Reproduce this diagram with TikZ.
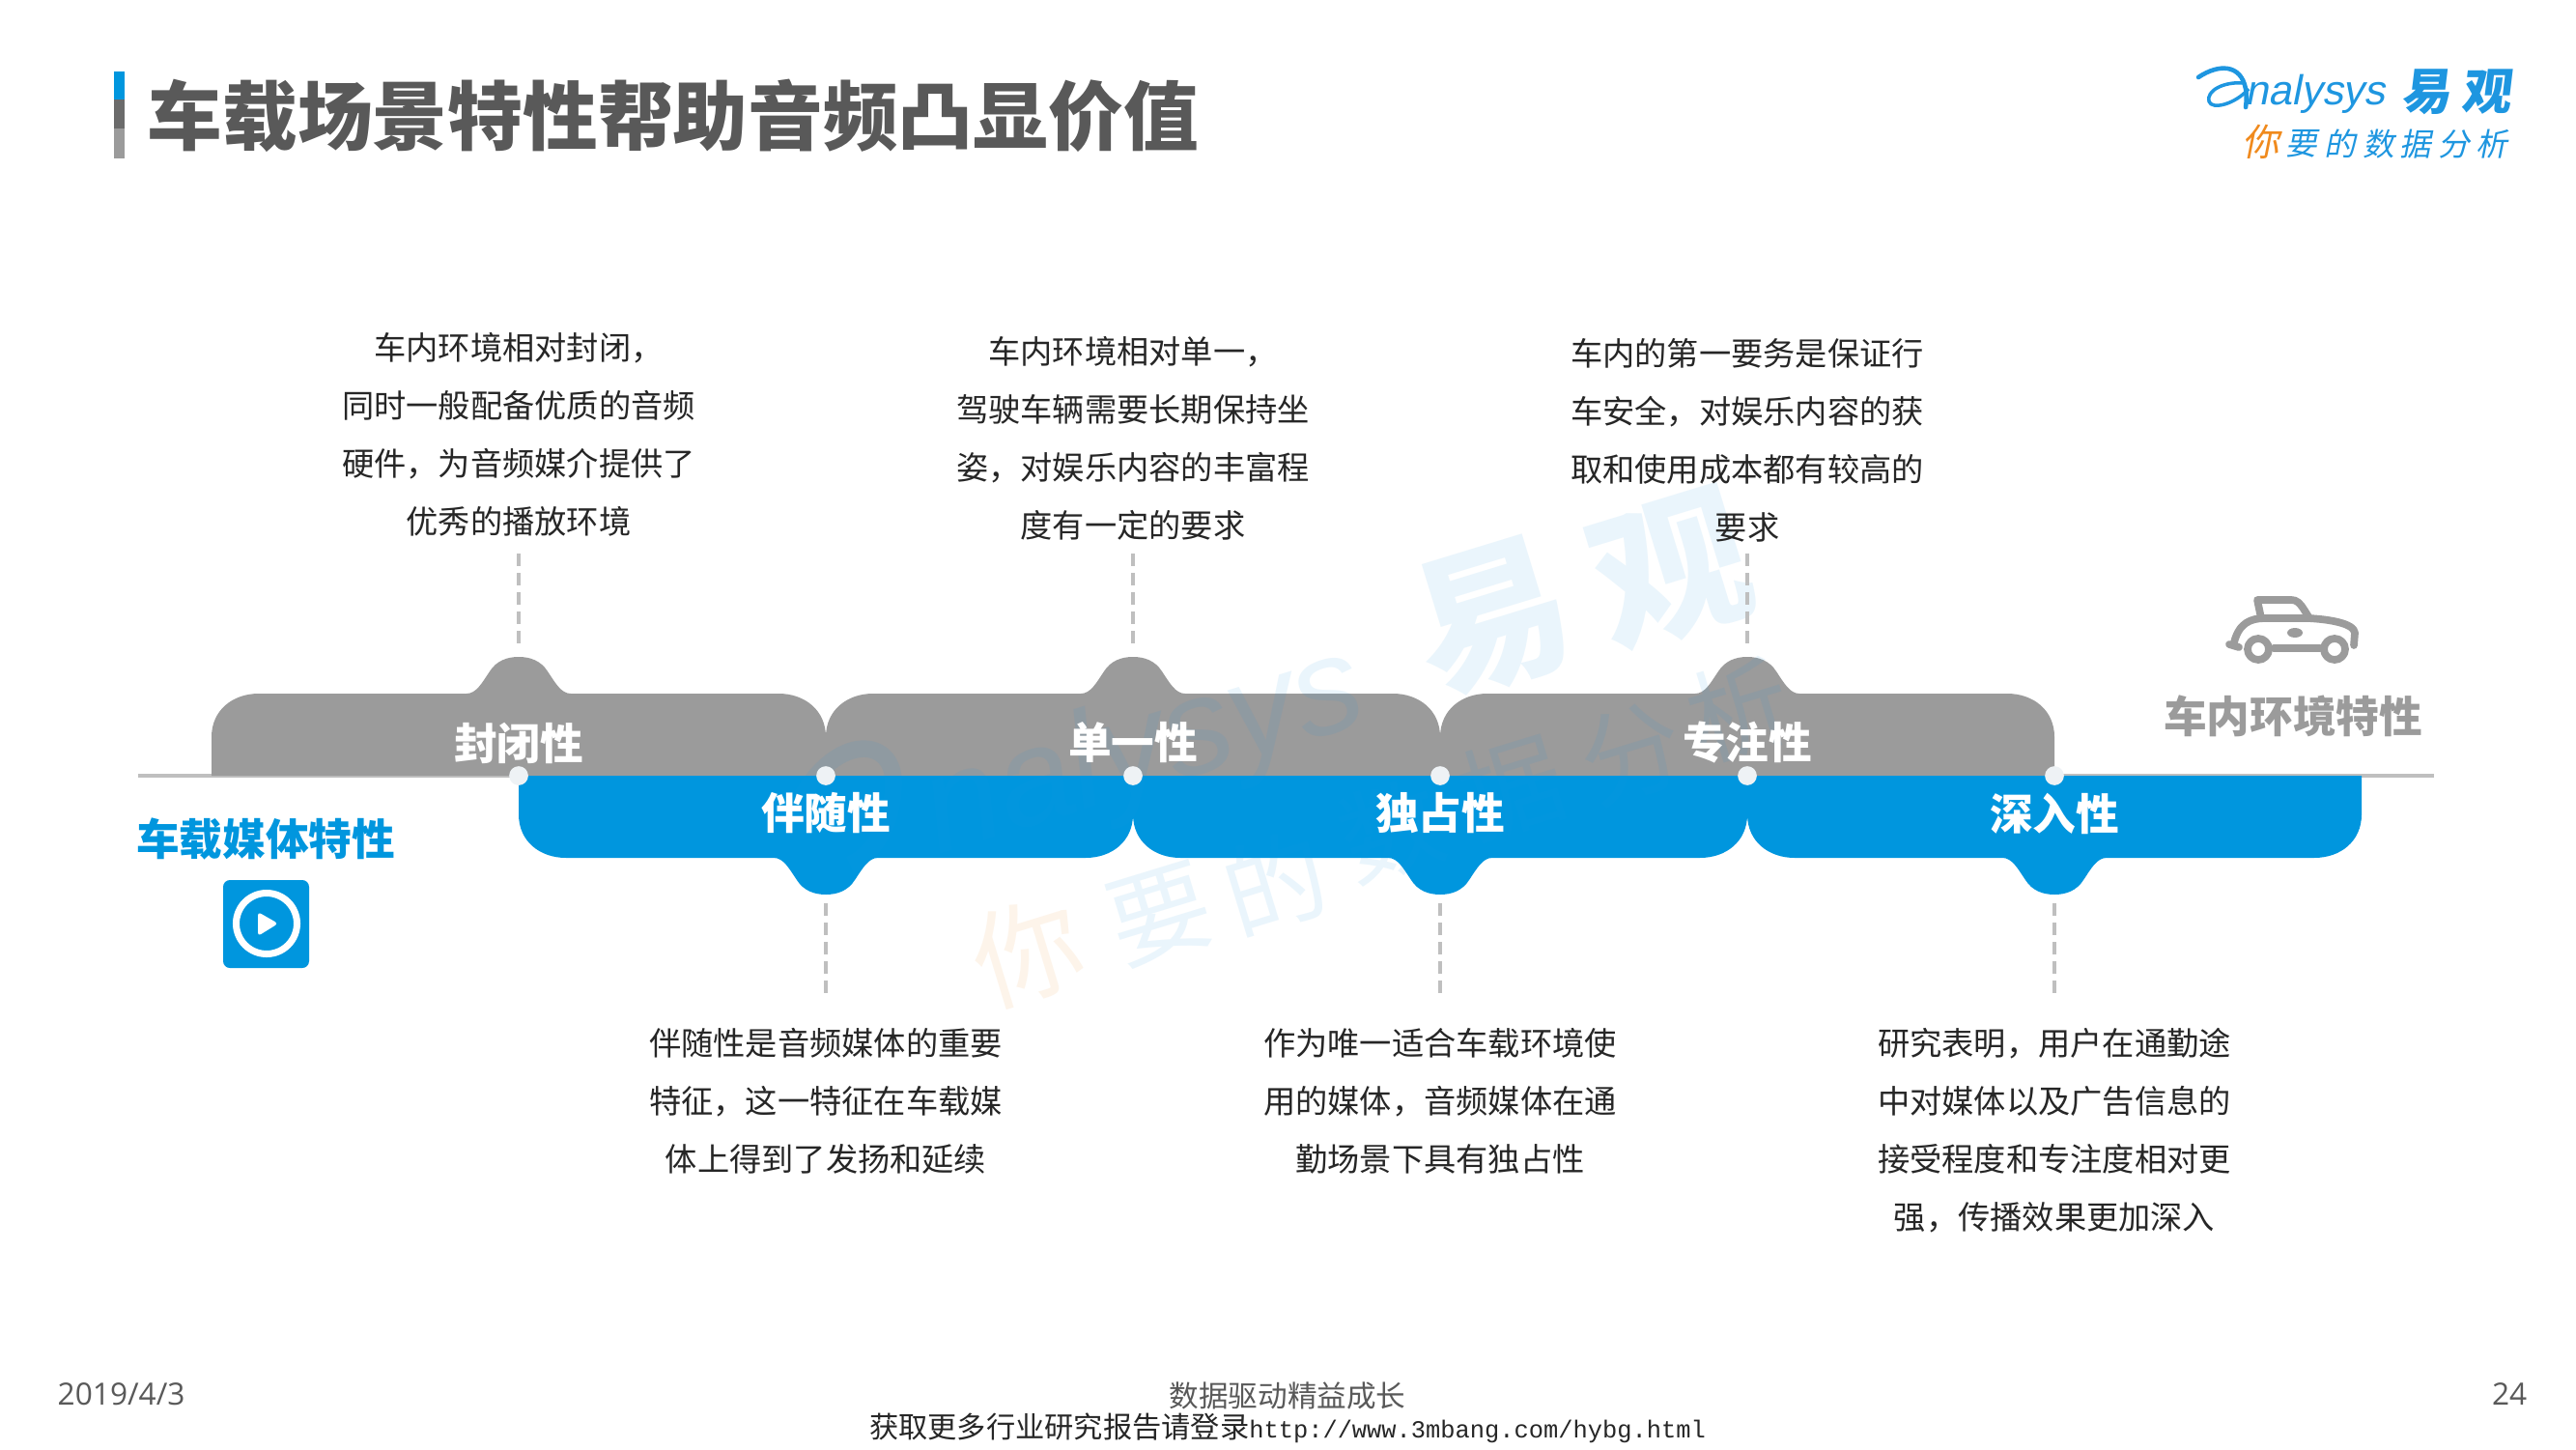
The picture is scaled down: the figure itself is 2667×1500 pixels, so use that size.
\documentclass[tikz,border=0pt]{standalone}
\usepackage{fontspec}
\setmainfont{Noto Sans CJK SC}
\newfontfamily\dateFont{Open Sans}
\newfontfamily\urlFont{Liberation Mono}[Scale=0.84]
\newfontfamily\logoFont{Liberation Sans}
\definecolor{tabgrey}{HTML}{9B9B9B}
\definecolor{tabblue}{HTML}{0096DE}
\definecolor{axisgrey}{HTML}{BFBFBF}
\definecolor{titlegrey}{HTML}{595959}
\definecolor{bodyink}{HTML}{262626}
\definecolor{logoblue}{HTML}{1E96E0}
\definecolor{logoorange}{HTML}{F08A1D}
\definecolor{dotfill}{HTML}{EEF2F5}
\tikzset{
  x=0.01cm,y=-0.01cm,
  tab/.pic={
    \path[pic actions] (-318,0) -- (-318,-40)
      .. controls (-318,-68) and (-296,-85) .. (-269,-85) -- (-54,-85)
      .. controls (-44,-85) and (-38,-96) .. (-30,-108)
      .. controls (-23,-119) and (-12,-123) .. (0,-123)
      .. controls (12,-123) and (23,-119) .. (30,-108)
      .. controls (38,-96) and (44,-85) .. (54,-85) -- (269,-85)
      .. controls (296,-85) and (318,-68) .. (318,-40) -- (318,0) -- cycle;
  },
  ticktext/.style={align=center,text=bodyink,inner sep=0pt,anchor=center,font=\fontsize{9.45pt}{17.05pt}\selectfont},
  leader/.style={draw=axisgrey,line width=0.9pt,dash pattern=on 3.7pt off 2pt},
  tabtext/.style={text=white,font=\fontsize{12.7pt}{14pt}\selectfont\bfseries,inner sep=0pt},
  sidetext/.style={font=\fontsize{12.7pt}{14pt}\selectfont\bfseries,inner sep=0pt},
  jointdot/.style={circle,fill=dotfill,inner sep=0pt,minimum size=5.6pt},
  wm/.style={opacity=0.09,rotate=17,inner sep=0pt},
  foot/.style={text=titlegrey,inner sep=0pt},
  slogan/.style={text=logoblue,inner sep=0pt,xslant=0.2,transform shape,font=\fontsize{9.3pt}{10pt}\selectfont},
  cartrace/.style={draw=tabgrey,line width=2.2pt,line cap=round,line join=round},
}
\begin{document}
\begin{tikzpicture}
\useasboundingbox (0,0) rectangle (2667,1500);
\fill[white] (0,0) rectangle (2667,1500);
% title
\fill[tabblue] (118,74) rectangle (129,103);
\fill[black!58] (118,103) rectangle (129,133);
\fill[tabgrey] (118,133) rectangle (129,164);
\node[anchor=west,inner sep=0pt,text=titlegrey,font=\fontsize{22.1pt}{24pt}\selectfont\bfseries] (title) at (152,120) {车载场景特性帮助音频凸显价值};
% logo
\draw[logoblue,line width=1.3pt,line cap=round] (2276,80) .. controls (2297,66) and (2320,66) .. (2325,92) .. controls (2326,98) and (2326,104) .. (2325,111);
\draw[logoblue,line width=1pt] (2324,86) .. controls (2302,84) and (2284,94) .. (2287,105) .. controls (2290,114) and (2314,108) .. (2328,92);
\node[anchor=base west,inner sep=0pt,text=logoblue,xslant=0.2,transform shape,font=\logoFont\fontsize{12.3pt}{13pt}\selectfont] (logoname) at (2324,109) {nalysys};
\node[anchor=center,inner sep=0pt,text=logoblue,xslant=0.12,transform shape,font=\fontsize{14.6pt}{16pt}\selectfont\bfseries] (logoa) at (2514,95) {易};
\node[anchor=center,inner sep=0pt,text=logoblue,xslant=0.12,transform shape,font=\fontsize{14.6pt}{16pt}\selectfont\bfseries] (logob) at (2576,95) {观};
\node[slogan,text=logoorange,font=\fontsize{11pt}{12pt}\selectfont] (s1) at (2344,147) {你};
\node[slogan] (s2) at (2385,149) {要};
\node[slogan] (s3) at (2425,149) {的};
\node[slogan] (s4) at (2465,149) {数};
\node[slogan] (s5) at (2503,149) {据};
\node[slogan] (s6) at (2543,149) {分};
\node[slogan] (s7) at (2582,149) {析};
% axis
\draw[axisgrey,line width=1.4pt] (143,803) -- (2520,803);
% tabs
\foreach \c in {537,1173,1809} \pic[fill=tabgrey] at (\c,803) {tab};
\foreach \c in {855,1491,2127} \pic[fill=tabblue,yscale=-1] at (\c,803) {tab};
% watermark
\draw[logoblue,opacity=0.09,line width=5pt] (825,835) .. controls (860,760) and (925,760) .. (925,810) .. controls (925,850) and (905,885) .. (880,895);
\node[wm,text=logoblue,font=\logoFont\fontsize{40pt}{44pt}\selectfont\itshape] (wmname) at (1185,781) {nalysys};
\node[wm,text=logoblue,font=\fontsize{46pt}{50pt}\selectfont\bfseries] (wma) at (1545,640) {易};
\node[wm,text=logoblue,font=\fontsize{46pt}{50pt}\selectfont\bfseries] (wmb) at (1730,590) {观};
\node[wm,text=logoorange,font=\fontsize{32pt}{36pt}\selectfont] (wmc) at (1064,985) {你};
\node[wm,text=logoblue,font=\fontsize{30pt}{36pt}\selectfont] (wmd) at (1201,947) {要};
\node[wm,text=logoblue,font=\fontsize{30pt}{36pt}\selectfont] (wme) at (1320,914) {的};
\node[wm,text=logoblue,font=\fontsize{30pt}{36pt}\selectfont] (wmf) at (1440,860) {数};
\node[wm,text=logoblue,font=\fontsize{30pt}{36pt}\selectfont] (wmg) at (1565,815) {据};
\node[wm,text=logoblue,font=\fontsize{30pt}{36pt}\selectfont] (wmh) at (1690,780) {分};
\node[wm,text=logoblue,font=\fontsize{30pt}{36pt}\selectfont] (wmi) at (1800,735) {析};
% joints
\foreach \c/\n in {537/j1,855/j2,1173/j3,1491/j4,1809/j5,2127/j6} \node[jointdot] (\n) at (\c,803) {};
% tab labels
\node[tabtext] (t1) at (537,769) {封闭性};
\node[tabtext] (t2) at (1173,769) {单一性};
\node[tabtext] (t3) at (1809,769) {专注性};
\node[tabtext] (b1) at (855,842) {伴随性};
\node[tabtext] (b2) at (1491,842) {独占性};
\node[tabtext] (b3) at (2127,842) {深入性};
% leaders
\coordinate (u1a) at (537,573); \coordinate (u1b) at (537,672);
\coordinate (u2a) at (1173,573); \coordinate (u2b) at (1173,672);
\coordinate (u3a) at (1809,573); \coordinate (u3b) at (1809,672);
\coordinate (d1a) at (855,935); \coordinate (d1b) at (855,1035);
\coordinate (d2a) at (1491,935); \coordinate (d2b) at (1491,1035);
\coordinate (d3a) at (2127,935); \coordinate (d3b) at (2127,1035);
\foreach \p in {u1,u2,u3,d1,d2,d3} \draw[leader] (\p a) -- (\p b);
% descriptions
\node[ticktext] (n1) at (537,450) {车内环境相对封闭，\\同时一般配备优质的音频\\硬件，为音频媒介提供了\\优秀的播放环境};
\node[ticktext] (n2) at (1173,454) {车内环境相对单一，\\驾驶车辆需要长期保持坐\\姿，对娱乐内容的丰富程\\度有一定的要求};
\node[ticktext] (n3) at (1809,456) {车内的第一要务是保证行\\车安全，对娱乐内容的获\\取和使用成本都有较高的\\要求};
\node[ticktext] (n4) at (855,1140) {伴随性是音频媒体的重要\\特征，这一特征在车载媒\\体上得到了发扬和延续};
\node[ticktext] (n5) at (1491,1140) {作为唯一适合车载环境使\\用的媒体，音频媒体在通\\勤场景下具有独占性};
\node[ticktext] (n6) at (2127,1170) {研究表明，用户在通勤途\\中对媒体以及广告信息的\\接受程度和专注度相对更\\强，传播效果更加深入};
% side labels
\node[sidetext,text=tabblue] (media) at (275,868) {车载媒体特性};
\node[sidetext,text=tabgrey] (env) at (2374,741) {车内环境特性};
% play icon
\fill[tabblue,rounded corners=2pt] (231,911) rectangle (320,1002);
\draw[white,line width=2pt] (276,956) circle[radius=31.5];
\fill[white,rounded corners=1pt] (267,944) -- (288,956) -- (267,969) -- cycle;
% car icon
\draw[cartrace] (2313,665) .. controls (2318,645) and (2330,640) .. (2345,640) -- (2390,640) .. controls (2410,641) and (2437,645) .. (2438,655) -- (2437,668);
\draw[cartrace] (2341,640) -- (2337,621) -- (2372,621) .. controls (2378,621) and (2381,624) .. (2386,632) -- (2391,640);
\draw[cartrace] (2308,667) -- (2318,670);
\draw[cartrace] (2354,671) -- (2402,671);
\draw[cartrace] (2338,672) circle[radius=11];
\draw[cartrace] (2417,672) circle[radius=11];
\fill[tabgrey] (2376,655) ellipse[x radius=8,y radius=5];
% footer
\node[foot,anchor=west,font=\dateFont\fontsize{9pt}{10pt}\selectfont] (date) at (59,1443) {2019/4/3};
\node[foot,anchor=east,font=\dateFont\fontsize{9pt}{10pt}\selectfont] (page) at (2617,1443) {24};
\node[foot,font=\fontsize{8.7pt}{10pt}\selectfont] (slogan) at (1333,1445) {数据驱动精益成长};
\node[inner sep=0pt,text=black!85,font=\fontsize{8.6pt}{10pt}\selectfont] (src) at (1333,1478) {获取更多行业研究报告请登录{\urlFont http://www.3mbang.com/hybg.html}};
\end{tikzpicture}
\end{document}
